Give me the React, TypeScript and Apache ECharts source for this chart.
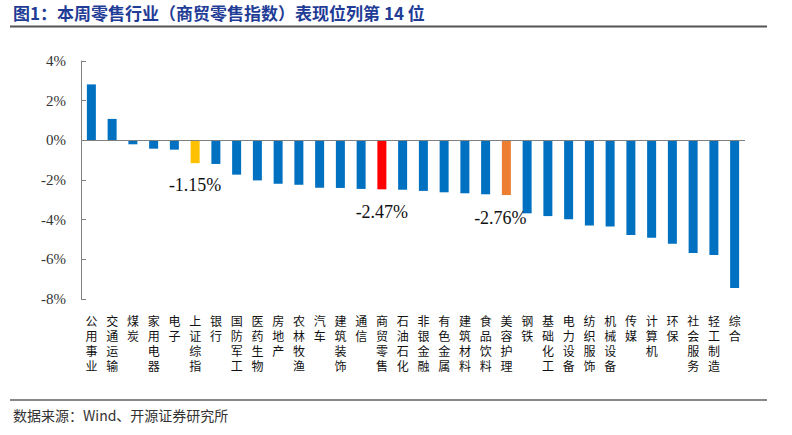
import React, { useEffect, useRef } from "react";
import * as echarts from "echarts";

const categories = [
  "公用事业", "交通运输", "煤炭", "家用电器", "电子", "上证综指", "银行", "国防军工",
  "医药生物", "房地产", "农林牧渔", "汽车", "建筑装饰", "通信", "商贸零售", "石油石化",
  "非银金融", "有色金属", "建筑材料", "食品饮料", "美容护理", "钢铁", "基础化工", "电力设备",
  "纺织服饰", "机械设备", "传媒", "计算机", "环保", "社会服务", "轻工制造", "综合",
];

const values = [
  2.82, 1.08, -0.2, -0.42, -0.47, -1.15, -1.19, -1.73,
  -2.02, -2.19, -2.24, -2.39, -2.4, -2.45, -2.47, -2.49,
  -2.55, -2.62, -2.67, -2.72, -2.76, -3.68, -3.82, -3.98,
  -4.29, -4.35, -4.77, -4.91, -5.21, -5.68, -5.78, -7.45,
];

const highlights: Record<string, string> = {
  "上证综指": "#FFC000",
  "商贸零售": "#FF0000",
  "美容护理": "#ED7D31",
};

const annotated = ["上证综指", "商贸零售", "美容护理"];
const annotationOffsets: Record<string, number[]> = {
  "上证综指": [0, 22],
  "商贸零售": [0, 23],
  "美容护理": [-6, 23],
};

const yTicks = { min: -8, max: 4, interval: 2 };

const titleText = "图1：本周零售行业（商贸零售指数）表现位列第 14 位";
const sourceText = "数据来源：Wind、开源证券研究所";

export default function App() {
  const ref = useRef<HTMLDivElement>(null);

  useEffect(() => {
    if (!ref.current) return;
    const chart = echarts.init(ref.current, null, { renderer: "svg" });
    const blue = "#0070C0";
    const serif = "'Liberation Serif', 'Times New Roman', serif";
    const cjk = "'Noto Sans CJK SC', sans-serif";

    chart.setOption({
      animation: false,
      backgroundColor: "#ffffff",
      grid: { left: 81, right: 47, top: 61, bottom: 136 },
      xAxis: {
        type: "category",
        data: categories,
        axisLine: { show: false, onZero: false },
        axisTick: { show: false },
        axisLabel: {
          interval: 0,
          margin: 14,
          fontFamily: cjk,
          fontSize: 12,
          lineHeight: 15,
          color: "#111",
          verticalAlign: "top",
          formatter: (v: string) => v.split("").join("\n"),
        },
      },
      yAxis: {
        type: "value",
        min: yTicks.min,
        max: yTicks.max,
        interval: yTicks.interval,
        axisLine: { show: true, lineStyle: { color: "#808080", width: 1 } },
        axisTick: { show: true, inside: true, length: 5, lineStyle: { color: "#808080" } },
        splitLine: { show: false },
        axisLabel: {
          margin: 15,
          fontFamily: serif,
          fontSize: 15,
          color: "#333",
          formatter: (v: number) => `${v}%`,
        },
      },
      series: [
        {
          type: "bar",
          barWidth: 9,
          data: values.map((v, i) => ({
            value: v,
            itemStyle: { color: highlights[categories[i]] || blue },
          })),
          markLine: {
            silent: true,
            symbol: "none",
            label: { show: false },
            lineStyle: { color: "#808080", width: 1, type: "solid" },
            data: [{ yAxis: 0 }],
          },
          markPoint: {
            silent: true,
            symbol: "circle",
            symbolSize: 0,
            data: annotated.map((c) => {
              const v = values[categories.indexOf(c)];
              return {
                coord: [c, v],
                label: {
                  show: true,
                  position: "inside",
                  offset: annotationOffsets[c],
                  formatter: `${v.toFixed(2)}%`,
                  fontFamily: serif,
                  fontSize: 18,
                  color: "#111",
                },
              };
            }),
          },
        },
      ],
      graphic: [
        {
          type: "text",
          left: 13,
          top: 4,
          style: {
            text: titleText,
            fontFamily: cjk,
            fontWeight: "bold",
            fontSize: 17,
            fill: "#1F3C96",
          },
        },
        {
          type: "line",
          shape: { x1: 10, y1: 26.5, x2: 767, y2: 26.5 },
          style: { stroke: "#555", lineWidth: 2 },
        },
        {
          type: "line",
          shape: { x1: 10, y1: 400, x2: 767, y2: 400 },
          style: { stroke: "#888", lineWidth: 2 },
        },
        {
          type: "text",
          left: 13,
          top: 408,
          style: {
            text: sourceText,
            fontFamily: cjk,
            fontSize: 14,
            fill: "#333",
          },
        },
      ],
    });

    return () => chart.dispose();
  }, []);

  return (
    <div
      ref={ref}
      style={{ position: "fixed", left: 0, top: 0, width: 792, height: 435 }}
    />
  );
}
